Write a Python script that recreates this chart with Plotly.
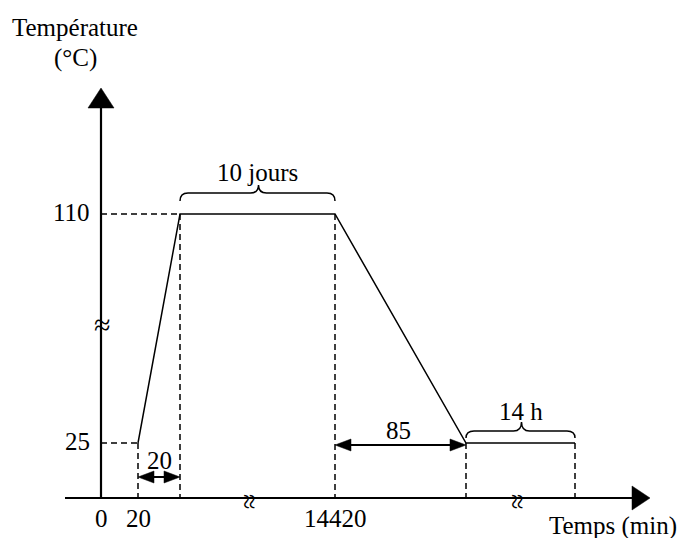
import plotly.graph_objects as go

# ---------------- data (schematic, broken axes) ----------------
# schematic time positions along the broken time axis
x_schematic = [37, 79, 234, 365, 474]
temperature = [25, 110, 110, 25, 25]

y_tick_values = [25, 110]
y_tick_labels = ["25", "110"]
x_tick_positions = [0, 37, 234]
x_tick_labels = ["0", "20", "14420"]

ramp_label = "20"
cool_label = "85"
plateau_label = "10 jours"
hold_label = "14 h"

# ---------------- scales ----------------
W, H = 680, 538
X0PX = 101            # pixel of schematic x = 0
PX_PER_C = 229 / 85   # pixels per °C
Y25PX = 443           # pixel of 25 °C


def dx(p):
    return p


def dy(p):
    return p / PX_PER_C


def ypx_to_T(py):
    return 25 + (Y25PX - py) / PX_PER_C


x_range = [-X0PX, W - X0PX]
y_range = [ypx_to_T(H), ypx_to_T(0)]
y_base = ypx_to_T(498)       # value where the time axis is drawn
x_left = 65 - X0PX
x_arrow_tip = 650 - X0PX
y_arrow_tip = ypx_to_T(88)

FONT = "Liberation Serif, 'Times New Roman', Times, serif"
FS = 25

fig = go.Figure()

# main curve
fig.add_trace(go.Scatter(x=x_schematic, y=temperature, mode="lines",
                         line=dict(color="black", width=1.5),
                         hoverinfo="skip", showlegend=False))

shapes = []


def line(x0, y0, x1, y1, width=1.5, dash="solid"):
    shapes.append(dict(type="line", xref="x", yref="y", x0=x0, y0=y0, x1=x1, y1=y1,
                       line=dict(color="black", width=width, dash=dash)))


def head(tx, ty, direction, length, half):
    # filled triangle, tip at (tx, ty), sizes in pixels
    if direction == "right":
        pts = [(tx, ty), (tx - dx(length), ty + dy(half)), (tx - dx(length), ty - dy(half))]
    elif direction == "left":
        pts = [(tx, ty), (tx + dx(length), ty + dy(half)), (tx + dx(length), ty - dy(half))]
    else:  # up
        pts = [(tx, ty), (tx - dx(half), ty - dy(length)), (tx + dx(half), ty - dy(length))]
    path = "M {} {} L {} {} L {} {} Z".format(*[v for p in pts for v in p])
    shapes.append(dict(type="path", xref="x", yref="y", path=path,
                       fillcolor="black", line=dict(color="black", width=0.5)))


def brace(x1, x2, y_bottom_px, depth_px, tip_px, xm):
    # horizontal curly brace, pixel offsets upward from the bottom
    yb_T = ypx_to_T(y_bottom_px)
    yf_T = ypx_to_T(y_bottom_px - depth_px)
    yt_T = ypx_to_T(y_bottom_px - depth_px - tip_px)
    r = dx(8)
    path = ("M {a} {yb} Q {a} {yf} {a2} {yf} L {m1} {yf} Q {m} {yf} {m} {yt} "
            "Q {m} {yf} {m2} {yf} L {b2} {yf} Q {b} {yf} {b} {yb}").format(
        a=x1, a2=x1 + r, m1=xm - r, m=xm, m2=xm + r, b2=x2 - r, b=x2,
        yb=yb_T, yf=yf_T, yt=yt_T)
    shapes.append(dict(type="path", xref="x", yref="y", path=path,
                       line=dict(color="black", width=1.5)))


# axes
line(0, y_base, 0, y_arrow_tip - dy(14), width=2.2)
head(0, y_arrow_tip, "up", 20, 13)
line(x_left, y_base, x_arrow_tip - dx(16), y_base, width=2.2)
head(x_arrow_tip, y_base, "right", 18, 12)

DASH = "6px,4px"
# horizontal dashed guides
line(0, temperature[1], x_schematic[1], temperature[1], dash=DASH)
line(0, temperature[0], x_schematic[0], temperature[0], dash=DASH)
# vertical dashed guides
for xv, tv in zip(x_schematic, temperature):
    line(xv, tv, xv, y_base, dash=DASH)

# double arrow 20 (ramp)
ya = ypx_to_T(477)
line(x_schematic[0] + dx(10), ya, x_schematic[1] - dx(10), ya, width=2)
head(x_schematic[0], ya, "left", 16, 6)
head(x_schematic[1], ya, "right", 16, 6)

# double arrow 85 (cooling)
yb85 = ypx_to_T(445)
line(x_schematic[2] + dx(10), yb85, x_schematic[3] - dx(10), yb85, width=2)
head(x_schematic[2], yb85, "left", 16, 6)
head(x_schematic[3], yb85, "right", 16, 6)

# braces
brace(x_schematic[1], x_schematic[2], 201, 8, 8, (x_schematic[1] + x_schematic[2]) / 2 + dx(1))
brace(x_schematic[3], x_schematic[4], 438, 7, 9, (x_schematic[3] + x_schematic[4]) / 2 + dx(1))

anns = []


def text(x, y, s, size=FS, angle=0, xanchor="center"):
    anns.append(dict(x=x, y=y, xref="x", yref="y", text=s, showarrow=False,
                     xanchor=xanchor, yanchor="middle", textangle=angle,
                     font=dict(family=FONT, size=size, color="black")))


for v, lab in zip(y_tick_values, y_tick_labels):
    text(-dx(9), v + dy(2), lab, xanchor="right")
for p, lab in zip(x_tick_positions, x_tick_labels):
    text(p, ypx_to_T(518), lab)

text(dx(613 - X0PX), ypx_to_T(526), "Temps (min)")
text(dx(75 - X0PX), ypx_to_T(27), "Température")
text(dx(75 - X0PX), ypx_to_T(58), "(°C)")

text((x_schematic[0] + x_schematic[1]) / 2, ypx_to_T(460), ramp_label)
text((x_schematic[2] + x_schematic[3]) / 2 + dx(-2), ypx_to_T(430), cool_label)
text((x_schematic[1] + x_schematic[2]) / 2, ypx_to_T(172), plateau_label)
text((x_schematic[3] + x_schematic[4]) / 2, ypx_to_T(411), hold_label)

# axis break marks
text(dx(1), ypx_to_T(324), "≈", size=30)
text(dx(250 - X0PX), ypx_to_T(501), "≈", size=28, angle=90)
text(dx(518 - X0PX), ypx_to_T(501), "≈", size=28, angle=90)

fig.update_layout(
    width=W, height=H,
    margin=dict(l=0, r=0, t=0, b=0),
    paper_bgcolor="white", plot_bgcolor="white",
    xaxis=dict(range=x_range, visible=False, fixedrange=True),
    yaxis=dict(range=y_range, visible=False, fixedrange=True),
    shapes=shapes, annotations=anns, showlegend=False,
)

fig.write_html("out.html", config={"displayModeBar": False},
               post_script="document.body.style.margin='0px';")
